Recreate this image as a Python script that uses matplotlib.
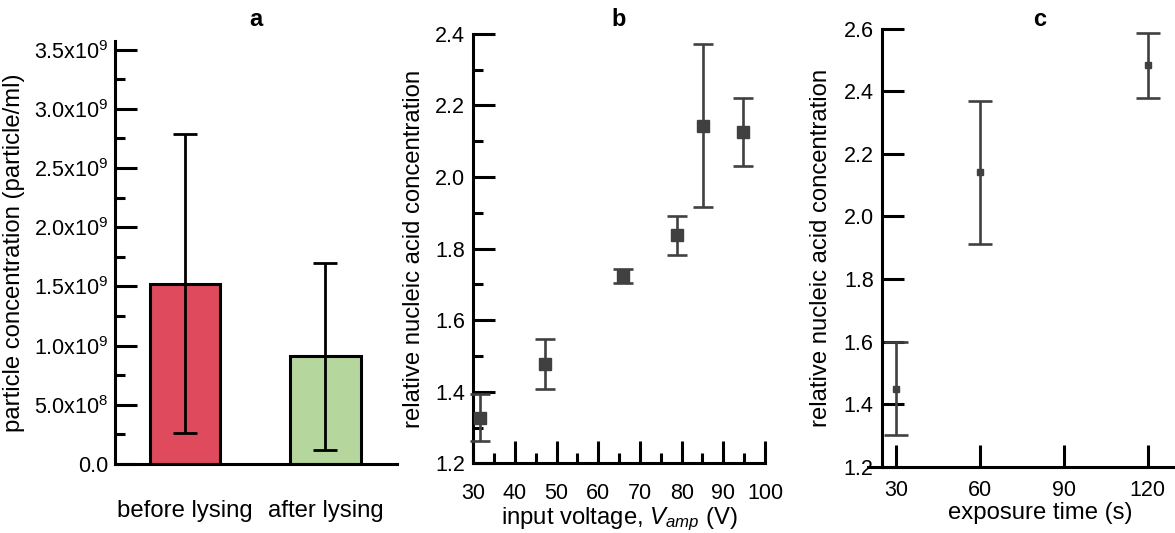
import matplotlib as mpl
import matplotlib.pyplot as plt
from matplotlib.ticker import MultipleLocator
import numpy as np

mpl.rcParams['font.family'] = ['Liberation Sans', 'DejaVu Sans']
mpl.rcParams['mathtext.fontset'] = 'custom'
mpl.rcParams['mathtext.rm'] = 'Liberation Sans'
mpl.rcParams['mathtext.it'] = 'Liberation Sans:italic'

# panel a: particle counts
groups = ['before lysing', 'after lysing']
conc = [1.522e9, 0.909e9]
conc_err = [1.264e9, 0.788e9]
bar_colors = ['#DF4A5C', '#B5D79D']
a_ticks = [0, 0.5e9, 1.0e9, 1.5e9, 2.0e9, 2.5e9, 3.0e9, 3.5e9]
a_ticklabels = ['0.0', '5.0x10$^8$', '1.0x10$^9$', '1.5x10$^9$',
                '2.0x10$^9$', '2.5x10$^9$', '3.0x10$^9$', '3.5x10$^9$']

# panel b: voltage sweep
volt = [31.6, 47.2, 65.9, 78.8, 85.2, 94.7]
nuc_b = [1.327, 1.477, 1.723, 1.837, 2.143, 2.127]
nuc_b_err = [0.066, 0.069, 0.02, 0.055, 0.228, 0.095]

# panel c: exposure time
t_exp = [30, 60, 120]
nuc_c = [1.45, 2.141, 2.483]
nuc_c_err = [0.15, 0.228, 0.104]

W, H = 1175, 533
fig = plt.figure(figsize=(W / 100, H / 100), dpi=100)

def px_axes(l, r, b, t):
    return fig.add_axes([l / W, 1 - b / H, (r - l) / W, (b - t) / H])

LW = 2.2
TS = 15.5
LS = 17.2
GREY = '#404040'

def style(ax):
    for s in ['top', 'right']:
        ax.spines[s].set_visible(False)
    for s in ['left', 'bottom']:
        ax.spines[s].set_linewidth(LW)
    ax.tick_params(which='both', direction='in', width=LW, labelsize=TS)
    ax.tick_params(which='major', length=15.5)
    ax.tick_params(which='minor', length=7.5)

# ----------------------------------------------------------------------
ax1 = px_axes(115, 397, 464, 40.7)
style(ax1)
x = np.arange(len(groups))
ax1.bar(x, conc, 0.5, color=bar_colors, edgecolor='black', linewidth=LW, zorder=2)
ax1.errorbar(x, conc, yerr=conc_err, fmt='none', ecolor='black',
             elinewidth=2, capsize=8.7, capthick=2, zorder=3)
ax1.set_xlim(-0.5, 1.51)
ax1.set_ylim(0, 3.575e9)
ax1.set_yticks(a_ticks, a_ticklabels)
ax1.yaxis.set_minor_locator(MultipleLocator(0.25e9))
ax1.set_xticks(x, groups)
ax1.tick_params(axis='x', length=0, pad=26, labelsize=LS)
ax1.tick_params(axis='y', pad=5)
ax1.set_ylabel('particle concentration (particle/ml)', fontsize=LS, labelpad=6)

# ----------------------------------------------------------------------
ax2 = px_axes(473.3, 765, 463.3, 33.9)
style(ax2)
ax2.errorbar(volt, nuc_b, yerr=nuc_b_err, fmt='s', color=GREY, ms=9,
             elinewidth=1.9, capsize=7.5, capthick=1.9, clip_on=False, zorder=3)
ax2.set_xlim(30, 100)
ax2.set_ylim(1.2, 2.4)
ax2.xaxis.set_major_locator(MultipleLocator(10))
ax2.xaxis.set_minor_locator(MultipleLocator(5))
ax2.yaxis.set_major_locator(MultipleLocator(0.2))
ax2.yaxis.set_minor_locator(MultipleLocator(0.1))
ax2.yaxis.set_major_formatter(mpl.ticker.FormatStrFormatter('%.1f'))
ax2.tick_params(axis='x', pad=14)
ax2.tick_params(axis='y', pad=6)
ax2.set_xlabel('input voltage, $V_{amp}$ (V)', fontsize=LS, labelpad=1)
ax2.set_ylabel('relative nucleic acid concentration', fontsize=LS, labelpad=7)

# ----------------------------------------------------------------------
ax3 = px_axes(868, 1212, 466.7, 28.8)
style(ax3)
ax3.spines['left'].set_position(('data', 25))
ax3.errorbar(t_exp, nuc_c, yerr=nuc_c_err, fmt='s', color=GREY, ms=5,
             elinewidth=1.9, capsize=8.5, capthick=1.9, clip_on=False, zorder=3)
ax3.set_xlim(20, 143)
ax3.set_ylim(1.2, 2.6)
ax3.set_xticks([30, 60, 90, 120])
ax3.yaxis.set_major_locator(MultipleLocator(0.2))
ax3.yaxis.set_major_formatter(mpl.ticker.FormatStrFormatter('%.1f'))
ax3.tick_params(axis='x', pad=9.5)
ax3.tick_params(axis='y', pad=6)
ax3.set_xlabel('exposure time (s)', fontsize=LS, labelpad=1)
ax3.set_ylabel('relative nucleic acid concentration', fontsize=LS, labelpad=8)

# panel letters
for ax, letter in [(ax1, 'a'), (ax2, 'b'), (ax3, 'c')]:
    bb = ax.get_position()
    fig.text((bb.x0 + bb.x1) / 2, 1 - 25.5 / H, letter, ha='center', va='baseline',
             fontsize=17, fontweight='bold')

plt.savefig('out.png', dpi=100)
